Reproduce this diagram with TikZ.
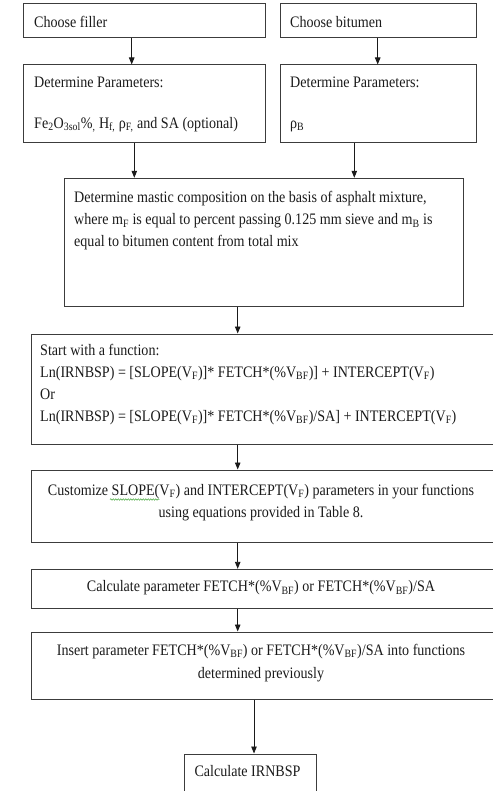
\documentclass[tikz,border=0pt]{standalone}
\usepackage{fontspec}
\setmainfont{Liberation Serif}[FakeStretch=0.88]
\usetikzlibrary{arrows.meta,calc,decorations.pathmorphing}
\definecolor{ink}{HTML}{1A1A1A}
\definecolor{frame}{HTML}{3C3C3C}
\definecolor{spell}{HTML}{3FA535}
% a top-aligned paragraph whose baseline is that of its first line
\newcommand{\tpar}[2]{\parbox[t]{#1}{#2}}
\newcommand{\cpar}[2]{\parbox[t]{#1}{\centering #2}}
\begin{document}
\begin{tikzpicture}[x=1pt,y=-1pt,
  box/.style={draw=frame,line width=1pt,rectangle,inner sep=0pt},
  txt/.style={inner sep=0pt,text=ink,font=\fontsize{16}{22}\selectfont},
  arr/.style={draw=ink,line width=0.9pt,-{Triangle[length=7pt,width=5.5pt]}}]
\useasboundingbox (0,0) rectangle (492,791);

% boxes: centre and size
\node[box,minimum width=241.7pt,minimum height=33.7pt] (b1) at (144.15,20.85) {};
\node[box,minimum width=196.7pt,minimum height=33.7pt] (b2) at (378.35,20.85) {};
\node[box,minimum width=241.7pt,minimum height=77.3pt] (b3) at (144.15,103.65) {};
\node[box,minimum width=196.7pt,minimum height=77.3pt] (b4) at (378.35,103.65) {};
\node[box,minimum width=399.3pt,minimum height=128.4pt] (b5) at (263.65,242.5) {};
\node[box,minimum width=466pt,minimum height=110pt] (b6) at (264,389) {};
\node[box,minimum width=466pt,minimum height=72.3pt] (b7) at (264,506.15) {};
\node[box,minimum width=466pt,minimum height=39pt] (b8) at (264,588.8) {};
\node[box,minimum width=466pt,minimum height=67.3pt] (b9) at (264,665.65) {};
\node[box,minimum width=132.4pt,minimum height=50pt] (b10) at (250.5,779) {};

% texts
\node[txt,anchor=base west] (t1) at (34,27.3) {Choose filler};
\node[txt,anchor=base west] (t2) at (290,27.3) {Choose bitumen};
\node[txt,anchor=base west] (t3) at (34,87.3)
  {\tpar{228pt}{Determine Parameters:\\[19pt]Fe\textsubscript{2}O\textsubscript{3sol}\%\textsubscript{,} H\textsubscript{f,} ρ\textsubscript{F,} and SA (optional)}};
\node[txt,anchor=base west] (t4) at (290,87.3)
  {\tpar{180pt}{Determine Parameters:\\[19pt]ρ\textsubscript{B}}};
\node[txt,anchor=base west] (t5) at (74,202.7)
  {\tpar{385pt}{Determine mastic composition on the basis of asphalt mixture,\\
   where m\textsubscript{F} is equal to percent passing 0.125 mm sieve and m\textsubscript{B} is\\
   equal to bitumen content from total mix}};
\node[txt,anchor=base west] (t6) at (40,355)
  {\tpar{445pt}{Start with a function:\\
   Ln(IRNBSP) = [SLOPE(V\textsubscript{F})]* FETCH*(\%V\textsubscript{BF})] + INTERCEPT(V\textsubscript{F})\\
   Or\\
   Ln(IRNBSP) = [SLOPE(V\textsubscript{F})]* FETCH*(\%V\textsubscript{BF})/SA] + INTERCEPT(V\textsubscript{F})}};
\node[txt,anchor=base] (t7) at (261,495)
  {\cpar{450pt}{Customize SLOPE(V\textsubscript{F}) and INTERCEPT(V\textsubscript{F}) parameters in your functions\\
   using equations provided in Table 8.}};
\node[txt,anchor=base] (t8) at (261,591.7)
  {Calculate parameter FETCH*(\%V\textsubscript{BF}) or FETCH*(\%V\textsubscript{BF})/SA};
\node[txt,anchor=base,font=\fontsize{16}{23}\selectfont] (t9) at (261,655)
  {\cpar{450pt}{Insert parameter FETCH*(\%V\textsubscript{BF}) or FETCH*(\%V\textsubscript{BF})/SA into functions\\
   determined previously}};
\node[txt,anchor=base west] (t10) at (194.3,776.7) {Calculate IRNBSP};

% spell-check squiggle under SLOPE
\coordinate (w1) at (110,499.5);
\coordinate (w2) at (159.3,499.5);
\draw[spell,line width=0.5pt,decorate,decoration={snake,amplitude=0.7pt,segment length=2.5pt}] (w1) -- (w2);

% arrow columns
\coordinate (x1) at (131.7,0);
\coordinate (x2) at (377.7,0);
\coordinate (x3) at (134.3,0);
\coordinate (x4) at (354.3,0);
\coordinate (x5) at (237.7,0);
\coordinate (x6) at (254,0);

\draw[arr] (b1.south -| x1) -- (b3.north -| x1);
\draw[arr] (b2.south -| x2) -- (b4.north -| x2);
\draw[arr] (b3.south -| x3) -- (b5.north -| x3);
\draw[arr] (b4.south -| x4) -- (b5.north -| x4);
\draw[arr] (b5.south -| x5) -- (b6.north -| x5);
\draw[arr] (b6.south -| x5) -- (b7.north -| x5);
\draw[arr] (b7.south -| x5) -- (b8.north -| x5);
\draw[arr] (b8.south -| x5) -- (b9.north -| x5);
\draw[arr] (b9.south -| x6) -- (b10.north -| x6);
\end{tikzpicture}
\end{document}
